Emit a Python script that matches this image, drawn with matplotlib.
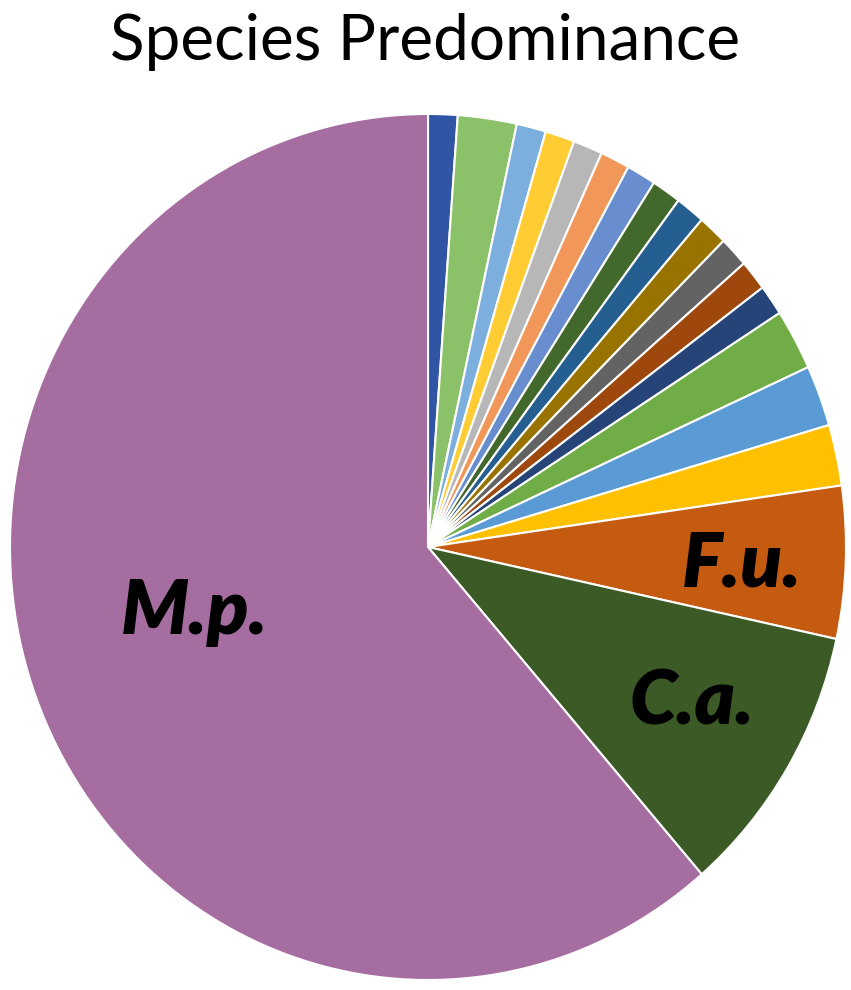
import matplotlib
matplotlib.use("Agg")
import matplotlib.pyplot as plt

# slices listed clockwise from 12 o'clock
species = ["s1", "s2", "s3", "s4", "s5", "s6", "s7", "s8", "s9", "s10",
           "s11", "s12", "s13", "s14", "s15", "s16", "F.u.", "C.a.", "M.p."]
counts = [1, 2, 1, 1, 1, 1, 1, 1, 1, 1, 1, 1, 1, 2, 2, 2, 5, 9, 54]
colors = ["#2F55A4", "#8BC168", "#7CAFDD", "#FFCD33", "#B7B7B7", "#F1975A",
          "#698ED0", "#43682B", "#255E91", "#997300", "#636363", "#9E480E",
          "#264478", "#70AD47", "#5B9BD5", "#FFC000", "#C55A11", "#3B5A25",
          "#A66DA1"]

# label text and where it sits (data units of the unit pie)
labels = {"M.p.": (-0.56, -0.15), "F.u.": (0.75, -0.04), "C.a.": (0.63, -0.36)}

plt.rcParams['font.family'] = ['Lato', 'DejaVu Sans']

fig = plt.figure(figsize=(8.51, 9.9), dpi=100)
ax = fig.add_axes([10 / 851, 10 / 990, 836 / 851, 866 / 990])

wedges, _ = ax.pie(counts, colors=colors, startangle=90, counterclock=False,
                   wedgeprops=dict(edgecolor="white", linewidth=1.5))
ax.set_aspect("auto")
ax.set_xlim(-1, 1)
ax.set_ylim(-1, 1)
ax.axis("off")

for name, (x, y) in labels.items():
    ax.text(x, y, name, ha="center", va="center", fontsize=55,
            fontweight="heavy", fontstyle="italic", color="black")

fig.text(0.5, 1 - 42 / 990, "Species Predominance", ha="center", va="center",
         fontsize=46, color="black")

fig.savefig("out.png", dpi=100)
